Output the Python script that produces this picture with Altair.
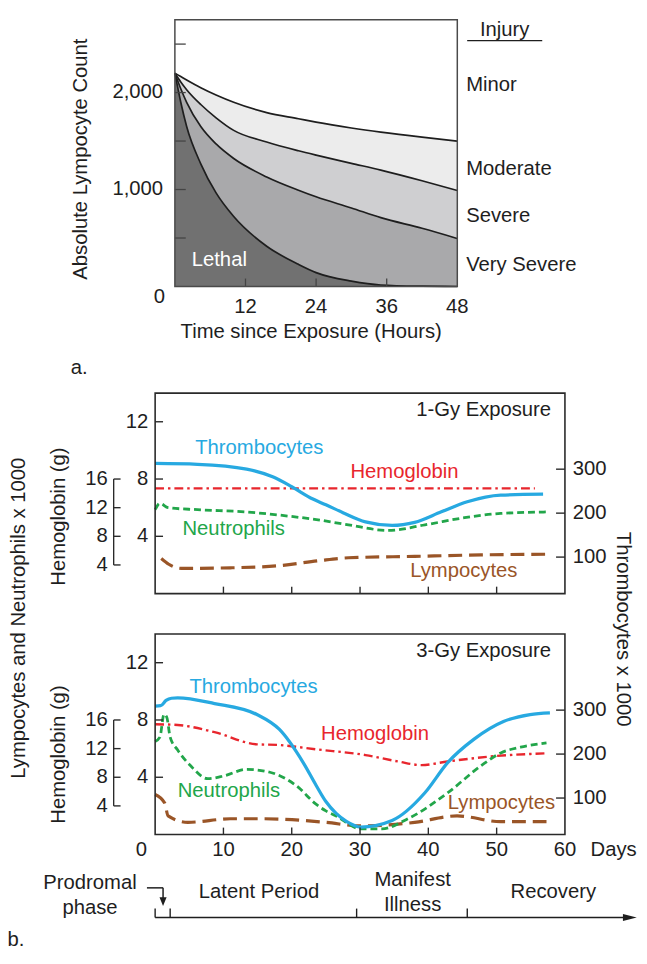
import altair as alt
import pandas as pd

FONT = "Liberation Sans"
FS = 20.5
INK = "#1e1e1e"
BLUE = "#27a9e1"
RED = "#e8262d"
GREEN = "#22a64a"
BROWN = "#9a5527"

# ---------------- panel a : lymphocyte depletion ----------------
hours = [0, 1, 2, 4.4, 7, 10, 15.6, 21, 24, 30, 35, 42, 48]
minor_limit = [2200, 2165, 2130, 2050, 1975, 1900, 1793, 1730, 1695, 1635, 1592, 1540, 1500]
moderate_limit = [2200, 2110, 2030, 1877, 1740, 1610, 1490, 1400, 1355, 1270, 1200, 1090, 990]
severe_limit = [2200, 2040, 1900, 1650, 1470, 1320, 1130, 993, 925, 810, 710, 600, 495]
lethal_limit = [2200, 1900, 1650, 1265, 965, 721, 415, 228, 143, 55, 15, 3, 0]
injury_labels = ["Minor", "Moderate", "Severe", "Very Severe"]
injury_label_values = [2082, 1214, 724, 224]
a_y_ticks = [500, 1000, 1500, 2000, 2500]
a_y_label_values = [1000, 2000]
a_y_labels = ["1,000", "2,000"]
a_x_ticks = [12, 24, 36]
a_x_label_values = [12, 24, 36, 48]

# ---------------- panel b : 1 Gy ----------------
thr1_days = [0, 6.2, 13.4, 17.3, 20, 23.1, 25, 27.5, 30.8, 34.7, 38, 41.9, 45.7, 50.6, 56.8]
thr1 = [313, 311, 300, 282, 260, 232, 219, 201, 180, 172, 179, 203, 226, 241, 243]
hb1_days = [0, 55.6]
hb1 = [14.7, 14.7]
neu1_days = [0, 0.7, 1.9, 6.2, 13.4, 19.7, 23.6, 28.3, 34.1, 39.5, 45.3, 50.6, 57.3]
neu1 = [5.86, 6.3, 6.0, 5.86, 5.7, 5.4, 5.17, 4.8, 4.41, 4.8, 5.3, 5.6, 5.7]
lym1_days = [0.9, 2, 3.8, 11, 18.2, 24, 28.3, 38, 47.7, 57.3]
lym1 = [2.45, 2.05, 1.76, 1.8, 1.95, 2.3, 2.5, 2.6, 2.7, 2.75]

# ---------------- panel b : 3 Gy ----------------
thr3_days = [0, 0.8, 1.6, 2.4, 3.3, 8.7, 14.9, 18.2, 21.7, 23.6, 25, 26.5, 28, 30.1, 34.7, 39.5, 42.8, 46.7, 51, 54.9, 57.8]
thr3 = [309, 310, 322, 327, 328, 315, 290, 256, 180, 128, 92, 65, 47, 34, 49, 112, 180, 234, 274, 290, 294]
hb3_days = [0, 3.3, 8.7, 14.9, 18.2, 23.6, 30.8, 35.6, 39, 42.8, 49.1, 57.3]
hb3 = [15.4, 15.3, 14.3, 12.6, 12.5, 11.9, 11.1, 10.2, 9.7, 10.2, 10.9, 11.35]
neu3_days = [0, 0.7, 1.3, 1.7, 2.2, 3.3, 5.2, 7.7, 10.1, 13.4, 16.8, 20.7, 23.6, 25, 26.5, 30.1, 33.2, 37, 42.8, 47.7, 50.6, 53.5, 57.3]
neu3 = [6.5, 6.8, 8.4, 8.2, 6.8, 5.9, 4.8, 3.9, 4.1, 4.55, 4.35, 3.4, 2.1, 1.65, 1.3, 0.4, 0.4, 1.1, 2.9, 4.8, 5.7, 6.1, 6.4]
lym3_days = [0, 1.4, 1.9, 4.8, 11, 15.9, 25, 30.1, 38, 44.2, 50.6, 57.3]
lym3 = [2.8, 2.2, 1.3, 0.85, 1.1, 1.1, 0.85, 0.6, 0.85, 1.3, 0.9, 0.9]

series_names = ["Thrombocytes", "Hemoglobin", "Neutrophils", "Lympocytes"]
series_colors = [BLUE, RED, GREEN, BROWN]
label1_days = [15.25, 36.5, 11.5, 45.2]
label1_vals = [10.14, 8.48, 4.48, 1.59]
label3_days = [14.4, 32.2, 10.8, 50.7]
label3_vals = [10.28, 7.03, 3.03, 2.2]

left_ticks = [4, 8, 12]
hemo_ticks = [4, 8, 12, 16]
thromb_ticks = [100, 200, 300]
day_ticks = [10, 20, 30, 40, 50]
day_labels = [10, 20, 30, 40, 50, 60]

phase_bounds = [0, 2.2, 29.5, 45.7]


def sc(domain, rng):
    return alt.Scale(domain=domain, range=rng, nice=False, zero=False)


def qx(f, s):
    return alt.X(f, type="quantitative", scale=s, axis=None)


def qy(f, s):
    return alt.Y(f, type="quantitative", scale=s, axis=None)


def txt(s, x, y, size=FS, color=INK, angle=0, align="center", baseline="middle"):
    return alt.Chart(pd.DataFrame({"t": [s]})).mark_text(
        fontSize=size, color=color, angle=angle, align=align, baseline=baseline, font=FONT
    ).encode(x=alt.value(x), y=alt.value(y), text="t:N")


XA = sc([0, 48], [169, 455])
YA = sc([0, 2750], [276, 6])
XB = sc([0, 60], [149, 564])
S1 = (sc([0, 14], [587, 384]), sc([0, 28], [587, 384]), sc([17, 473], [587, 384]))
S3 = (sc([0, 14], [831, 628]), sc([0, 28], [831, 628]), sc([17, 473], [831, 628]))

layers = []

# ---- panel a
dfa = pd.DataFrame({"h": hours, "c1": minor_limit, "c2": moderate_limit,
                    "c3": severe_limit, "c4": lethal_limit})
for top, bot, col in [("c1", "c2", "#ececec"), ("c2", "c3", "#cfcfd1"), ("c3", "c4", "#a9a9ab")]:
    layers.append(alt.Chart(dfa).mark_area(color=col, interpolate="monotone").encode(
        x=qx("h", XA), y=qy(top, YA), y2=alt.Y2(bot)))
layers.append(alt.Chart(dfa).mark_area(color="#717171", interpolate="monotone").encode(
    x=qx("h", XA), y=qy("c4", YA), y2=alt.Y2Datum(0)))
for c in ["c1", "c2", "c3", "c4"]:
    layers.append(alt.Chart(dfa).mark_line(color=INK, strokeWidth=1.7, interpolate="monotone").encode(
        x=qx("h", XA), y=qy(c, YA)))

layers.append(alt.Chart(pd.DataFrame({"v": a_y_ticks})).mark_rule(
    x2Offset=11, color="#444", strokeWidth=1.3).encode(
    x=alt.XDatum(0, scale=XA, axis=None), x2=alt.X2Datum(0), y=qy("v", YA)))
layers.append(alt.Chart(pd.DataFrame({"h": a_x_ticks})).mark_rule(
    y2Offset=-8, color="#444", strokeWidth=1.3).encode(
    x=qx("h", XA), y=alt.YDatum(0, scale=YA, axis=None), y2=alt.Y2Datum(0)))
layers.append(alt.Chart(pd.DataFrame({"x0": [0], "x1": [48], "y0": [0], "y1": [2750]})).mark_rect(
    fillOpacity=0, stroke="#4a4a4a", strokeWidth=1.5).encode(
    x=qx("x0", XA), x2=alt.X2("x1"), y=qy("y0", YA), y2=alt.Y2("y1")))
layers.append(alt.Chart(pd.DataFrame({"v": a_y_label_values, "t": a_y_labels})).mark_text(
    align="right", baseline="middle", dx=-12, fontSize=FS, font=FONT, color=INK).encode(
    x=alt.XDatum(0, scale=XA, axis=None), y=qy("v", YA), text="t:N"))
layers.append(alt.Chart(pd.DataFrame({"v": [0], "t": ["0"]})).mark_text(
    align="right", baseline="middle", dx=-10, dy=11, fontSize=FS, font=FONT, color=INK).encode(
    x=alt.XDatum(0, scale=XA, axis=None), y=qy("v", YA), text="t:N"))
layers.append(alt.Chart(pd.DataFrame({"h": a_x_label_values})).mark_text(
    baseline="middle", dy=21, fontSize=FS, font=FONT, color=INK).encode(
    x=qx("h", XA), y=alt.YDatum(0, scale=YA, axis=None), text="h:Q"))
layers.append(alt.Chart(pd.DataFrame({"v": injury_label_values, "t": injury_labels})).mark_text(
    align="left", baseline="middle", dx=9, fontSize=FS, font=FONT, color=INK).encode(
    x=alt.XDatum(48, scale=XA, axis=None), y=qy("v", YA), text="t:N"))
layers.append(alt.Chart(pd.DataFrame({"h": [7.55], "v": [276], "t": ["Lethal"]})).mark_text(
    baseline="middle", fontSize=FS, font=FONT, color="white").encode(
    x=qx("h", XA), y=qy("v", YA), text="t:N"))
layers.append(txt("Injury", 503, 16))
layers.append(alt.Chart(pd.DataFrame({"a": [0]})).mark_rule(color=INK, strokeWidth=1.3).encode(
    x=alt.value(465), x2=alt.value(541), y=alt.value(27)))
layers.append(txt("Absolute Lympocyte Count", 74, 147, angle=270))
layers.append(txt("Time since Exposure (Hours)", 307, 322))
layers.append(txt("a.", 72, 359))


# ---- panel b builder
def panel(S, thr_d, thr_v, hb_d, hb_v, ne_d, ne_v, ly_d, ly_v, lab_d, lab_v, exposure, hemo_y):
    Ls, Hs, Ts = S
    out = []
    out.append(alt.Chart(pd.DataFrame({"d": ly_d, "v": ly_v})).mark_line(
        color=BROWN, strokeWidth=3.2, strokeDash=[14, 7], interpolate="monotone").encode(
        x=qx("d", XB), y=qy("v", Ls)))
    out.append(alt.Chart(pd.DataFrame({"d": hb_d, "v": hb_v})).mark_line(
        color=RED, strokeWidth=2.4, strokeDash=[9, 4, 2.5, 4], interpolate="monotone").encode(
        x=qx("d", XB), y=qy("v", Hs)))
    out.append(alt.Chart(pd.DataFrame({"d": ne_d, "v": ne_v})).mark_line(
        color=GREEN, strokeWidth=2.8, strokeDash=[7, 4], interpolate="monotone").encode(
        x=qx("d", XB), y=qy("v", Ls)))
    out.append(alt.Chart(pd.DataFrame({"d": thr_d, "v": thr_v})).mark_line(
        color=BLUE, strokeWidth=3.3, interpolate="monotone").encode(
        x=qx("d", XB), y=qy("v", Ts)))
    # frame
    out.append(alt.Chart(pd.DataFrame({"x0": [0], "x1": [60], "y0": [0], "y1": [14]})).mark_rect(
        fillOpacity=0, stroke="#2a2a2a", strokeWidth=1.6).encode(
        x=qx("x0", XB), x2=alt.X2("x1"), y=qy("y0", Ls), y2=alt.Y2("y1")))
    # x ticks
    out.append(alt.Chart(pd.DataFrame({"d": day_ticks})).mark_rule(
        y2Offset=-7, color="#2a2a2a", strokeWidth=1.4).encode(
        x=qx("d", XB), y=alt.YDatum(0, scale=Ls, axis=None), y2=alt.Y2Datum(0)))
    # left ticks + labels
    out.append(alt.Chart(pd.DataFrame({"v": left_ticks})).mark_rule(
        x2Offset=8, color="#2a2a2a", strokeWidth=1.4).encode(
        x=alt.XDatum(0, scale=XB, axis=None), x2=alt.X2Datum(0), y=qy("v", Ls)))
    out.append(alt.Chart(pd.DataFrame({"v": left_ticks})).mark_text(
        align="right", baseline="middle", dx=-7, fontSize=FS, font=FONT, color=INK).encode(
        x=alt.XDatum(0, scale=XB, axis=None), y=qy("v", Ls), text="v:Q"))
    # right ticks + labels
    out.append(alt.Chart(pd.DataFrame({"v": thromb_ticks})).mark_rule(
        x2Offset=-9, color="#2a2a2a", strokeWidth=1.4).encode(
        x=alt.XDatum(60, scale=XB, axis=None), x2=alt.X2Datum(60), y=qy("v", Ts)))
    out.append(alt.Chart(pd.DataFrame({"v": thromb_ticks})).mark_text(
        align="left", baseline="middle", dx=8, fontSize=FS, font=FONT, color=INK).encode(
        x=alt.XDatum(60, scale=XB, axis=None), y=qy("v", Ts), text="v:Q"))
    # hemoglobin bracket axis
    out.append(alt.Chart(pd.DataFrame({"lo": [hemo_ticks[0]], "hi": [hemo_ticks[-1]]})).mark_rule(
        xOffset=-42, color="#2a2a2a", strokeWidth=1.4).encode(
        x=alt.XDatum(0, scale=XB, axis=None), y=qy("lo", Hs), y2=alt.Y2("hi")))
    out.append(alt.Chart(pd.DataFrame({"v": hemo_ticks})).mark_rule(
        xOffset=-42, x2Offset=-35, color="#2a2a2a", strokeWidth=1.4).encode(
        x=alt.XDatum(0, scale=XB, axis=None), x2=alt.X2Datum(0), y=qy("v", Hs)))
    out.append(alt.Chart(pd.DataFrame({"v": hemo_ticks})).mark_text(
        align="right", baseline="middle", dx=-48, fontSize=FS, font=FONT, color=INK).encode(
        x=alt.XDatum(0, scale=XB, axis=None), y=qy("v", Hs), text="v:Q"))
    out.append(txt("Hemoglobin (g)", 52, hemo_y, angle=270))
    # labels
    out.append(alt.Chart(pd.DataFrame({"d": lab_d, "v": lab_v, "t": series_names, "c": series_colors})).mark_text(
        baseline="middle", fontSize=FS, font=FONT).encode(
        x=qx("d", XB), y=qy("v", Ls), text="t:N", color=alt.Color("c:N", scale=None)))
    out.append(alt.Chart(pd.DataFrame({"v": [12.8], "t": [exposure]})).mark_text(
        align="right", baseline="middle", dx=-14, fontSize=FS, font=FONT, color=INK).encode(
        x=alt.XDatum(60, scale=XB, axis=None), y=qy("v", Ls), text="t:N"))
    return out


layers += panel(S1, thr1_days, thr1, hb1_days, hb1, neu1_days, neu1, lym1_days, lym1,
                label1_days, label1_vals, "1-Gy Exposure", 509)
layers += panel(S3, thr3_days, thr3, hb3_days, hb3, neu3_days, neu3, lym3_days, lym3,
                label3_days, label3_vals, "3-Gy Exposure", 750)

# x labels of the lower panel
L3 = S3[0]
layers.append(alt.Chart(pd.DataFrame({"d": day_labels})).mark_text(
    baseline="middle", dy=16, fontSize=FS, font=FONT, color=INK).encode(
    x=qx("d", XB), y=alt.YDatum(0, scale=L3, axis=None), text="d:Q"))
layers.append(alt.Chart(pd.DataFrame({"d": [0]})).mark_text(
    baseline="middle", dy=16, dx=-14, fontSize=FS, font=FONT, color=INK).encode(
    x=qx("d", XB), y=alt.YDatum(0, scale=L3, axis=None), text="d:Q"))
layers.append(alt.Chart(pd.DataFrame({"t": ["Days"]})).mark_text(
    align="left", baseline="middle", dy=16, dx=26, fontSize=FS, font=FONT, color=INK).encode(
    x=alt.XDatum(60, scale=XB, axis=None), y=alt.YDatum(0, scale=L3, axis=None), text="t:N"))

# shared axis titles
layers.append(txt("Lympocytes and Neutrophils x 1000", 11, 612, angle=270))
layers.append(txt("Thrombocytes x 1000", 617, 623, angle=90, baseline="alphabetic"))

# ---- phase timeline
layers.append(alt.Chart(pd.DataFrame({"a": [0], "b": [69.3]})).mark_rule(color=INK, strokeWidth=1.6).encode(
    x=qx("a", XB), x2=alt.X2("b"), y=alt.value(915)))
layers.append(alt.Chart(pd.DataFrame({"d": phase_bounds})).mark_rule(color=INK, strokeWidth=1.4).encode(
    x=qx("d", XB), y=alt.value(906), y2=alt.value(915)))
layers.append(alt.Chart(pd.DataFrame({"d": [69.5]})).mark_point(
    shape="M -1 -0.5 L 1 0 L -1 0.5 Z", filled=True, size=196, color=INK, opacity=1, strokeWidth=0).encode(
    x=qx("d", XB), y=alt.value(915)))
layers.append(alt.Chart(pd.DataFrame({"a": [-1.2], "b": [1.16]})).mark_rule(color=INK, strokeWidth=1.5).encode(
    x=qx("a", XB), x2=alt.X2("b"), y=alt.value(885)))
layers.append(alt.Chart(pd.DataFrame({"d": [1.16]})).mark_rule(color=INK, strokeWidth=1.5).encode(
    x=qx("d", XB), y=alt.value(885), y2=alt.value(896)))
layers.append(alt.Chart(pd.DataFrame({"d": [1.16]})).mark_point(
    shape="M -0.8 -1 L 0.8 -1 L 0 1 Z", filled=True, size=81, color=INK, opacity=1, strokeWidth=0).encode(
    x=qx("d", XB), y=alt.value(899)))
layers.append(txt("Prodromal", 83, 880))
layers.append(txt("phase", 83, 905))
for name, day, y in [("Latent Period", 15.2, 889), ("Manifest", 37.7, 877),
                     ("Illness", 37.7, 902), ("Recovery", 58.3, 889)]:
    layers.append(alt.Chart(pd.DataFrame({"d": [day], "t": [name]})).mark_text(
        baseline="middle", fontSize=FS, font=FONT, color=INK).encode(
        x=qx("d", XB), y=alt.value(y), text="t:N"))
layers.append(txt("b.", 8, 938))

chart = alt.layer(*layers).resolve_scale(x="independent", y="independent").properties(
    width=639, height=948, padding=0, autosize=alt.AutoSizeParams(type="none")
).configure_view(stroke=None)

chart.save("out.html", embed_options={"renderer": "svg", "actions": False})
